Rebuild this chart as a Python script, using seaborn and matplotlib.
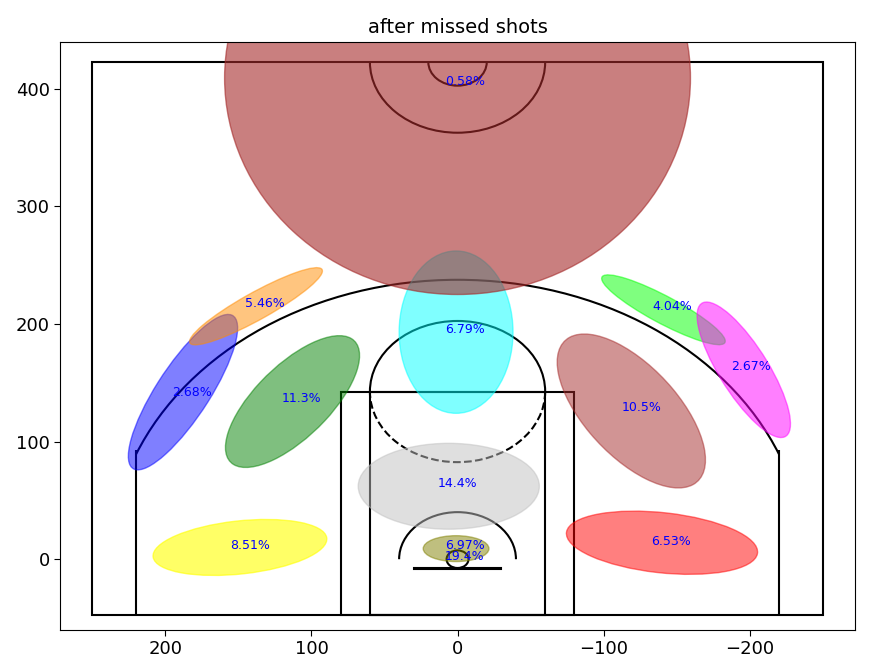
import matplotlib
matplotlib.use("Agg")
from matplotlib import pyplot as plt
from matplotlib.patches import Ellipse, Arc, Rectangle, Circle
import seaborn as sns

sns.set_style("white")
plt.rcParams['font.family'] = ['DejaVu Sans']

# shot zones fitted on missed shots (data coords); big zone last so it sits on top
centers = [(188, 142), (138, 215), (113, 134), (149, 10), (1, 193),
           (6, 62), (1, 9), (-119, 126), (-141, 212), (-196, 161), (-140, 14), (0, 409)]
widths = [147, 110, 134, 120, 78, 124, 45, 151, 101, 127, 132, 319]
heights = [38, 22, 55, 45, 138, 73, 22, 68, 22, 35, 51, 368]
angles = [117, 145, 127, -8, 0, 0, 0, 56, 34, 64, 8, 0]
colors = ['blue', 'darkorange', 'green', 'yellow', 'cyan',
          'silver', 'olive', 'brown', 'lime', 'magenta', 'red', 'brown']
alphas = [0.5, 0.5, 0.5, 0.6, 0.5, 0.5, 0.5, 0.5, 0.5, 0.5, 0.5, 0.6]

labels = ['0.58%', '2.68%', '5.46%', '11.3%', '8.51%', '6.79%', '14.4%',
          '6.97%', '19.4%', '10.5%', '4.04%', '2.67%', '6.53%']
label_pos = [(-5, 406), (182, 142), (132, 217), (107, 137), (142, 12), (-5, 195),
             (0, 64), (-5, 12), (-5, 2.5), (-126, 129), (-147, 215), (-201, 164), (-146, 15)]


def draw_court(ax, color='black', lw=1.5):
    parts = [
        Circle((0, 0), radius=7.5, linewidth=lw, color=color, fill=False),
        Rectangle((-30, -7.5), 60, -1, linewidth=lw, color=color),
        Rectangle((-80, -47.5), 160, 190, linewidth=lw, color=color, fill=False),
        Rectangle((-60, -47.5), 120, 190, linewidth=lw, color=color, fill=False),
        Arc((0, 142.5), 120, 120, theta1=0, theta2=180, linewidth=lw, color=color),
        Arc((0, 142.5), 120, 120, theta1=180, theta2=0, linewidth=lw, color=color, linestyle='dashed'),
        Arc((0, 0), 80, 80, theta1=0, theta2=180, linewidth=lw, color=color),
        Rectangle((-220, -47.5), 0, 140, linewidth=lw, color=color),
        Rectangle((220, -47.5), 0, 140, linewidth=lw, color=color),
        Arc((0, 0), 475, 475, theta1=22, theta2=158, linewidth=lw, color=color),
        Arc((0, 422.5), 120, 120, theta1=180, theta2=0, linewidth=lw, color=color),
        Arc((0, 422.5), 40, 40, theta1=180, theta2=0, linewidth=lw, color=color),
        Rectangle((-250, -47.5), 500, 470, linewidth=lw, color=color, fill=False),
    ]
    for p in parts:
        ax.add_patch(p)


fig = plt.figure(figsize=(8.74, 6.7), dpi=100)
ax = fig.add_axes([0.069, 0.06, 0.909, 0.878])

draw_court(ax)

for c, w, h, a, col, al in zip(centers, widths, heights, angles, colors, alphas):
    ax.add_patch(Ellipse(c, w, h, angle=a, color=col, alpha=al))

for t, (x, y) in zip(labels, label_pos):
    ax.text(x, y, t, color='blue', fontsize=9, ha='center', va='center')

ax.set_xlim(272, -272)
ax.set_ylim(-60, 440)
ax.set_xticks([200, 100, 0, -100, -200])
ax.set_yticks([0, 100, 200, 300, 400])
ax.tick_params(labelsize=13, length=4, left=True, bottom=True, colors='black')
ax.set_title('after missed shots', fontsize=14, color='black')
for s in ax.spines.values():
    s.set_color('black')
    s.set_linewidth(0.8)

fig.savefig('out.png', dpi=100)
